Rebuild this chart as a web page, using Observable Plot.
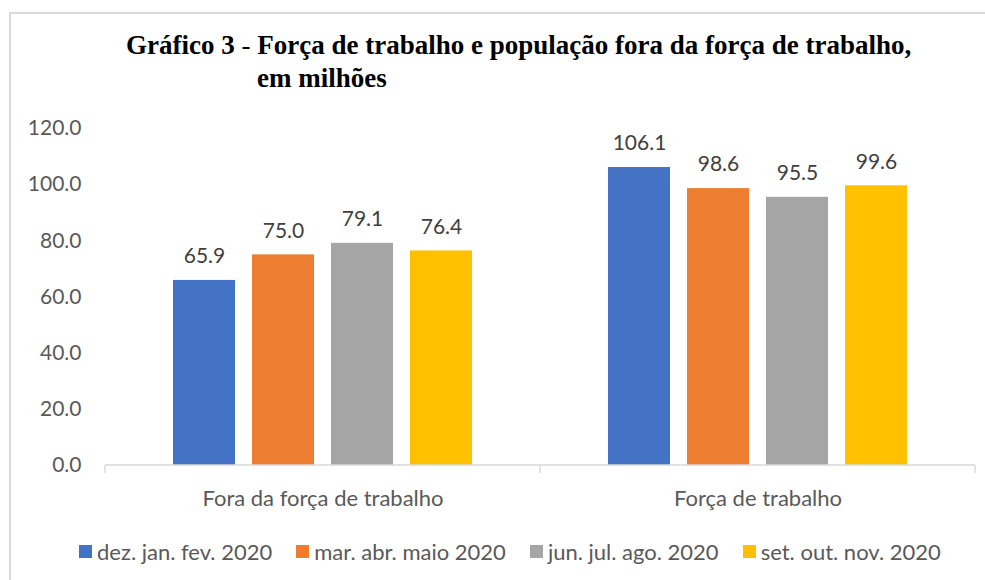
<!DOCTYPE html>
<html>
<head>
<meta charset="utf-8">
<script src="https://cdn.jsdelivr.net/npm/d3@7"></script>
<script src="https://cdn.jsdelivr.net/npm/@observablehq/plot@0.6"></script>
<style>
  html, body { margin: 0; padding: 0; background: #fff; }
  #wrap { position: relative; width: 985px; height: 580px; overflow: hidden; background: #fff; }
  #border { position: absolute; left: 9px; top: 12px; width: 1000px; height: 600px; border: 2px solid #d9d9d9; box-sizing: border-box; }
  .title { position: absolute; font-family: "Liberation Serif", "Times New Roman", serif; font-weight: bold; font-size: 27px; color: #000; white-space: nowrap; line-height: 1; }
  #chart { position: absolute; left: 0; top: 110px; }
  #legend { position: absolute; left: 79px; top: 538px; display: flex; align-items: center; font-family: Lato, sans-serif; font-size: 22px; color: #595959; white-space: nowrap; }
  #legend .item { display: flex; align-items: center; margin-right: 24px; }
  #legend .sw { width: 13px; height: 13px; margin-right: 5px; }
  #chart svg g[aria-label="fx-axis tick label"] text { font-size: 22px; }
</style>
</head>
<body>
<div id="wrap">
  <div id="border"></div>
  <div class="title" id="t1" style="left:126px; top:32px;">Gráfico 3 <span style="font-weight:normal">-</span> Força de trabalho e população fora da força de trabalho,</div>
  <div class="title" id="t2" style="left:257px; top:65px;">em milhões</div>
  <div id="chart"></div>
  <div id="legend"></div>
</div>
<script>
const categories = ["Fora da força de trabalho", "Força de trabalho"];
const series = ["dez. jan. fev. 2020", "mar. abr. maio 2020", "jun. jul. ago. 2020", "set. out. nov. 2020"];
const colors = ["#4472C4", "#ED7D31", "#A5A5A5", "#FFC000"];
const foraValues = [65.9, 75.0, 79.1, 76.4];
const forcaValues = [106.1, 98.6, 95.5, 99.6];
const yTicks = [0, 20, 40, 60, 80, 100, 120];

const valuesByCategory = [foraValues, forcaValues];
const data = [];
categories.forEach((c, i) => {
  series.forEach((s, j) => {
    data.push({cat: c, series: s, value: valuesByCategory[i][j]});
  });
});

const axisColor = "#d9d9d9";

const chart = Plot.plot({
  width: 985,
  height: 405,
  marginLeft: 105,
  marginRight: 10,
  marginTop: 18,
  marginBottom: 50,
  style: {fontFamily: "Lato, sans-serif", fontSize: "21px", color: "#595959", background: "transparent"},
  y: {domain: [0, 120], ticks: yTicks, tickFormat: d => d.toFixed(1), tickSize: 0, tickPadding: 24, label: null},
  fx: {domain: categories, padding: 0, label: null, axis: "bottom", tickSize: 0, tickPadding: 25},
  x: {domain: series, paddingInner: 0.21, paddingOuter: 0.85, axis: null},
  color: {domain: series, range: colors},
  marks: [
    Plot.barY(data, {fx: "cat", x: "series", y: "value", fill: "series"}),
    Plot.text(data, {fx: "cat", x: "series", y: "value", text: d => d.value.toFixed(1), dy: -24, fill: "#404040", fontSize: 21}),
    Plot.frame({
      facet: "super",
      stroke: axisColor,
      render: (index, scales, values, dims, context, next) => {
        const y0 = scales.y ? scales.y(0) : dims.height - dims.marginBottom;
        const left = dims.marginLeft;
        const right = dims.width - dims.marginRight;
        let xs = [left];
        if (scales.fx) {
          categories.forEach(c => xs.push(scales.fx(c)));
          xs.push(right);
        } else {
          const w = (right - left) / categories.length;
          categories.forEach((c, i) => xs.push(left + w * (i + 1)));
        }
        xs = Array.from(new Set(xs.map(v => Math.round(v * 10) / 10)));
        const ns = "http://www.w3.org/2000/svg";
        const g = document.createElementNS(ns, "g");
        const path = document.createElementNS(ns, "path");
        path.setAttribute("d", `M${left},${y0}H${right}` + xs.map(x => `M${x},${y0}V${y0 + 8}`).join(""));
        path.setAttribute("stroke", axisColor);
        path.setAttribute("stroke-width", "1.5");
        path.setAttribute("fill", "none");
        g.appendChild(path);
        return g;
      }
    })
  ]
});
document.getElementById("chart").appendChild(chart);

const legend = document.getElementById("legend");
series.forEach((s, i) => {
  const item = document.createElement("div");
  item.className = "item";
  const sw = document.createElement("div");
  sw.className = "sw";
  sw.style.background = colors[i];
  const label = document.createElement("span");
  label.textContent = s;
  item.appendChild(sw);
  item.appendChild(label);
  legend.appendChild(item);
});
</script>
</body>
</html>
